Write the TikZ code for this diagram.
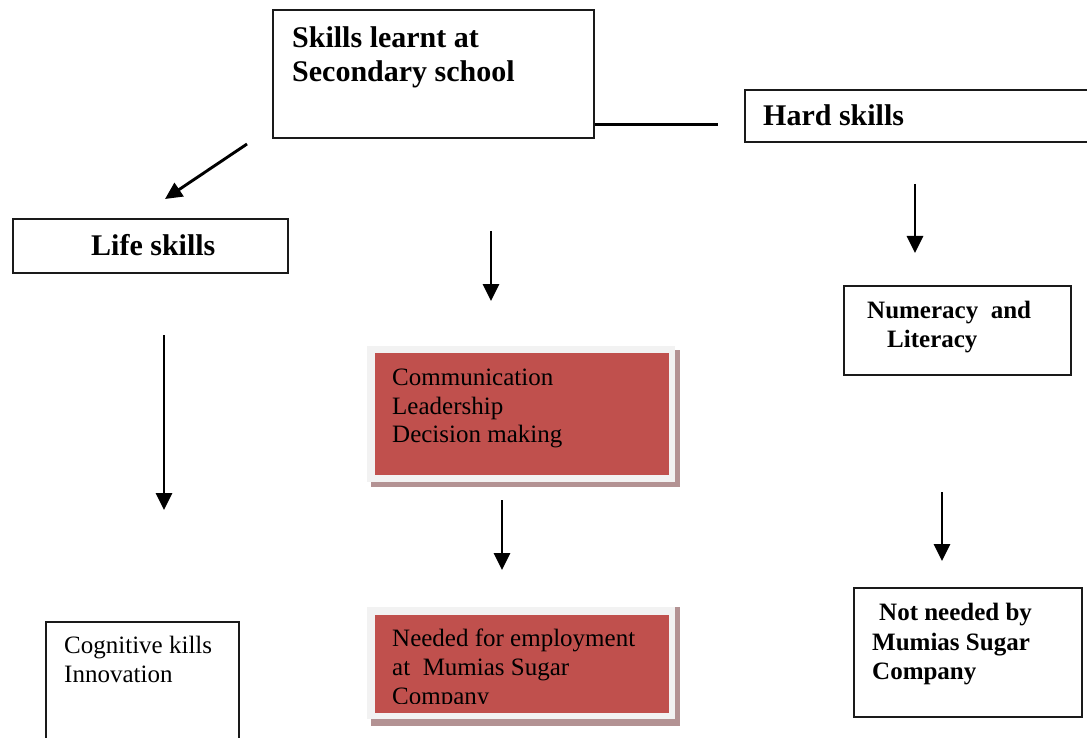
\documentclass[tikz,border=0pt]{standalone}
\usepackage{fontspec}
\setmainfont{Liberation Serif}
\usetikzlibrary{arrows.meta}
\definecolor{boxred}{HTML}{C0504D}
\definecolor{shadowmauve}{HTML}{B39293}
\definecolor{framegray}{HTML}{F2F2F2}
\definecolor{edge}{HTML}{1A1A1A}
\tikzset{
  box/.style={draw=edge, line width=2.4pt, fill=white, inner sep=0pt, anchor=north west},
  shadowbox/.style={fill=shadowmauve, draw=none, inner sep=0pt, anchor=north west},
  framebox/.style={fill=framegray, draw=none, inner sep=0pt, anchor=north west},
  redbox/.style={fill=boxred, draw=none, inner sep=0pt, anchor=north west},
  bigtxt/.style={anchor=base west, inner sep=0pt, font=\fontsize{30}{33}\selectfont\bfseries},
  boldtxt/.style={anchor=base west, inner sep=0pt, font=\fontsize{25}{28}\selectfont\bfseries},
  plaintxt/.style={anchor=base west, inner sep=0pt, font=\fontsize{25}{28}\selectfont},
  arr/.style={line width=2.9pt, -{Triangle[length=17pt,width=16pt]}},
  link/.style={line width=2.8pt}
}
\begin{document}
\begin{tikzpicture}[x=1pt,y=-1pt]
\useasboundingbox (0,0) rectangle (1087,738);
\fill[white] (0,0) rectangle (1087,738);

% top box
\node[box, minimum width=321pt, minimum height=128pt] (top) at (272,9) {};
\node[bigtxt] (top1) at (292,48) {Skills learnt at};
\node[bigtxt] (top2) at (292,82) {Secondary school};

% hard skills
\node[box, minimum width=360pt, minimum height=52pt] (hard) at (744,89) {};
\node[bigtxt] (hardt) at (763,126) {Hard skills};
\coordinate (linkend) at (718,124.5);
\draw[link] (top.east |- linkend) -- (linkend);

% life skills
\node[box, minimum width=275pt, minimum height=54pt] (life) at (12,218) {};
\node[bigtxt] (lifet) at (91,255) {Life skills};

% numeracy
\node[box, minimum width=227pt, minimum height=89pt] (num) at (843,285) {};
\node[boldtxt] (num1) at (867,318) {Numeracy\ \ and};
\node[boldtxt] (num2) at (887,347) {Literacy};

% communication red box
\node[shadowbox, minimum width=309pt, minimum height=137pt] (sh1) at (371,350) {};
\node[framebox, minimum width=308pt, minimum height=136pt] (fr1) at (367,346) {};
\node[redbox, minimum width=294pt, minimum height=122pt] (red1) at (375,353) {};
\node[plaintxt] (c1) at (392,385) {Communication};
\node[plaintxt] (c2) at (392,414) {Leadership};
\node[plaintxt] (c3) at (392,442) {Decision making};

% employment red box
\node[shadowbox, minimum width=309pt, minimum height=119pt] (sh2) at (371,607) {};
\node[framebox, minimum width=308pt, minimum height=112pt] (fr2) at (367,607) {};
\node[redbox, minimum width=294pt, minimum height=98pt] (red2) at (375,615) {};
\begin{scope}
\clip (375,615) rectangle (669,703);
\node[plaintxt] (e1) at (392,646) {Needed for employment};
\node[plaintxt] (e2) at (392,675) {at\ \ Mumias Sugar};
\node[plaintxt] (e3) at (392,704) {Company};
\end{scope}

% cognitive box
\node[box, minimum width=193pt, minimum height=130pt] (cog) at (45,621) {};
\node[plaintxt] (g1) at (64,653) {Cognitive kills};
\node[plaintxt] (g2) at (64,682) {Innovation};

% not needed box
\node[box, minimum width=228pt, minimum height=129pt] (notn) at (853,587) {};
\node[boldtxt] (n1) at (879,620) {Not needed by};
\node[boldtxt] (n2) at (872,650) {Mumias Sugar};
\node[boldtxt] (n3) at (872,679) {Company};

% arrows
\coordinate (a1s) at (247,144); \coordinate (a1e) at (165,199);
\draw[arr] (a1s) -- (a1e);
\coordinate (a2s) at (164,335); \coordinate (a2e) at (164,510);
\draw[arr] (a2s) -- (a2e);
\coordinate (a3s) at (491,231); \coordinate (a3e) at (491,301);
\draw[arr] (a3s) -- (a3e);
\coordinate (a4s) at (502,500); \coordinate (a4e) at (502,570);
\draw[arr] (a4s) -- (a4e);
\coordinate (a5s) at (915,184); \coordinate (a5e) at (915,253);
\draw[arr] (a5s) -- (a5e);
\coordinate (a6s) at (942,492); \coordinate (a6e) at (942,561);
\draw[arr] (a6s) -- (a6e);
\end{tikzpicture}
\end{document}
